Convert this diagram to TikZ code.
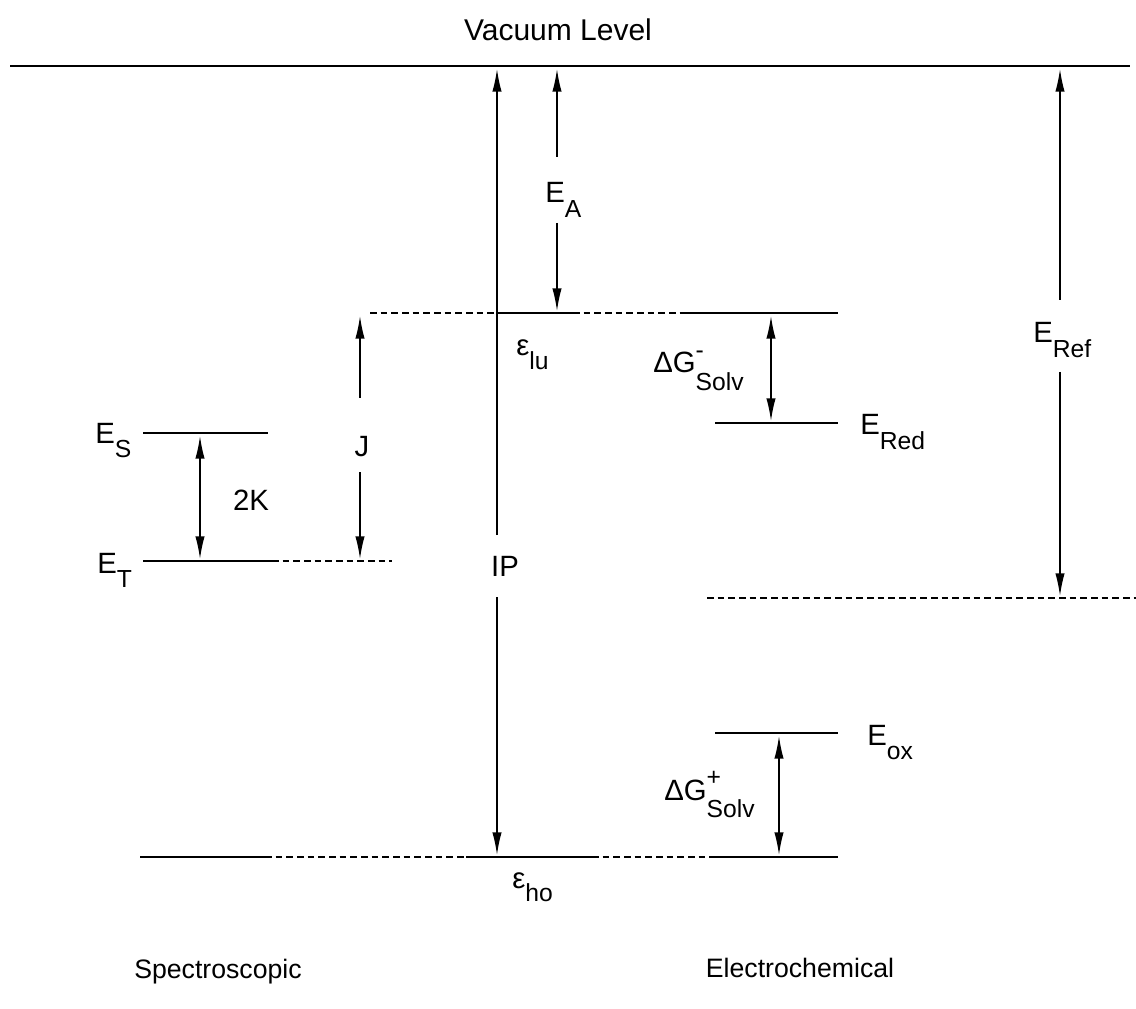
\documentclass[tikz,border=0pt]{standalone}
\usepackage{fontspec}
\setmainfont{Liberation Sans}
\usetikzlibrary{arrows.meta}
\newcommand\subfont{\fontsize{18.5pt}{18.5pt}\selectfont}
\newcommand\lowr[1]{\raisebox{-11pt}{\subfont #1}}
\newcommand\supsub[2]{\rlap{\raisebox{11pt}{\subfont #1}}\raisebox{-13pt}{\subfont #2}}
\begin{document}
\begin{tikzpicture}[x=0.75pt,y=-0.75pt,
  level/.style={line width=1.4pt},
  dlevel/.style={line width=1.4pt,dash pattern=on 5pt off 3pt},
  arr/.style={line width=1.1pt,-{Latex[length=17pt,width=7pt]}},
  darr/.style={line width=1.1pt,{Latex[length=17pt,width=7pt]}-{Latex[length=17pt,width=7pt]}},
  lab/.style={inner sep=0pt,font=\fontsize{22pt}{26pt}\selectfont},
  bottomlab/.style={inner sep=0pt,font=\fontsize{20pt}{24pt}\selectfont}]
\useasboundingbox (0,0) rectangle (1136,1009);

% level coordinates
\coordinate (vacL) at (10,66);   \coordinate (vacR) at (1130,66);
\coordinate (luL) at (370,313);  \coordinate (luA) at (497,313);
\coordinate (luB) at (573,313);  \coordinate (luC) at (680,313);
\coordinate (luR) at (838,313);
\coordinate (esL) at (143,433);  \coordinate (esR) at (268,433);
\coordinate (etL) at (143,561);  \coordinate (etM) at (272,561);
\coordinate (etR) at (392,561);
\coordinate (redL) at (715,423); \coordinate (redR) at (838,423);
\coordinate (refL) at (707,598); \coordinate (refR) at (1136,598);
\coordinate (oxL) at (715,733);  \coordinate (oxR) at (838,733);
\coordinate (hoL) at (140,857);  \coordinate (hoA) at (265,857);
\coordinate (hoB) at (466,857);  \coordinate (hoC) at (592,857);
\coordinate (hoD) at (710,857);  \coordinate (hoR) at (838,857);

% levels
\draw[level] (vacL) -- (vacR);
\draw[dlevel] (luL) -- (luA);
\draw[level] (luA) -- (luB);
\draw[dlevel] (luB) -- (luC);
\draw[level] (luC) -- (luR);
\draw[level] (esL) -- (esR);
\draw[level] (etL) -- (etM);
\draw[dlevel] (etM) -- (etR);
\draw[level] (redL) -- (redR);
\draw[dlevel] (refL) -- (refR);
\draw[level] (oxL) -- (oxR);
\draw[level] (hoL) -- (hoA);
\draw[dlevel] (hoA) -- (hoB);
\draw[level] (hoB) -- (hoC);
\draw[dlevel] (hoC) -- (hoD);
\draw[level] (hoD) -- (hoR);

% labels
\node[lab,font=\fontsize{22.5pt}{26pt}\selectfont] (vac) at (558,30) {Vacuum Level};
\node[lab,anchor=base west] (ES) at (95,443) {E\lowr{S}};
\node[lab,anchor=base west] (ET) at (97,573) {E\lowr{T}};
\node[lab] (K2) at (251,500) {2K};
\node[lab] (J) at (362,447) {J};
\node[lab] (IP) at (505,566) {IP};
\node[lab,anchor=base west] (EA) at (545,203) {E\lowr{A}};
\node[lab,anchor=base west] (elu) at (516,356) {ε\raisebox{-10pt}{\subfont lu}};
\node[lab,anchor=base west] (eho) at (512,888) {ε\raisebox{-10pt}{\subfont ho}};
\node[lab,anchor=base west] (dGm) at (653,373) {ΔG\supsub{-}{Solv}};
\node[lab,anchor=base west] (dGp) at (664,800) {ΔG\supsub{+}{Solv}};
\node[lab,anchor=base west] (ERed) at (860,435) {E\lowr{Red}};
\node[lab,anchor=base west] (Eox) at (867,745) {E\lowr{ox}};
\node[lab,anchor=base west] (ERef) at (1033,343) {E\lowr{Ref}};
\node[bottomlab] (spec) at (218,972) {Spectroscopic};
\node[bottomlab] (elec) at (800,968) {Electrochemical};

% arrow coordinates
\coordinate (ipT) at (497,69);  \coordinate (ipU) at (497,535);
\coordinate (ipD) at (497,597); \coordinate (ipB) at (497,855);
\coordinate (eaT) at (557,69);  \coordinate (eaU) at (557,157);
\coordinate (eaD) at (557,223); \coordinate (eaB) at (557,311);
\coordinate (jT) at (360,316);  \coordinate (jU) at (360,398);
\coordinate (jD) at (360,472);  \coordinate (jB) at (360,559);
\coordinate (kT) at (200,436);  \coordinate (kB) at (200,559);
\coordinate (gmT) at (771,316); \coordinate (gmB) at (771,421);
\coordinate (gpT) at (779,736); \coordinate (gpB) at (779,855);
\coordinate (rT) at (1060,69);  \coordinate (rU) at (1060,300);
\coordinate (rD) at (1060,372); \coordinate (rB) at (1060,596);

% arrows
\draw[arr] (ipU) -- (ipT);
\draw[arr] (ipD) -- (ipB);
\draw[arr] (eaU) -- (eaT);
\draw[arr] (eaD) -- (eaB);
\draw[arr] (jU) -- (jT);
\draw[arr] (jD) -- (jB);
\draw[darr] (kT) -- (kB);
\draw[darr] (gmT) -- (gmB);
\draw[darr] (gpT) -- (gpB);
\draw[arr] (rU) -- (rT);
\draw[arr] (rD) -- (rB);
\end{tikzpicture}
\end{document}
